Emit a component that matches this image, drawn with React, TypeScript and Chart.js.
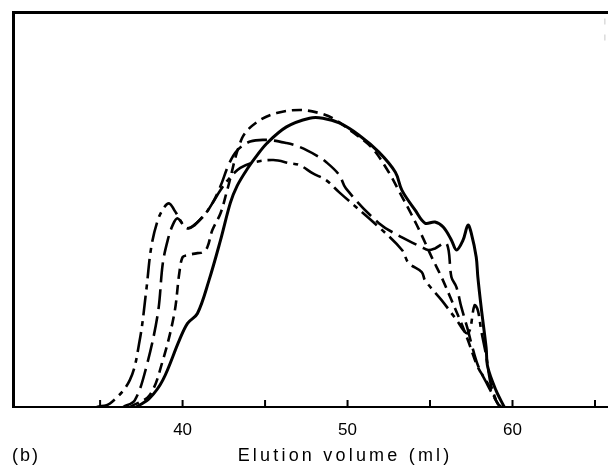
import React, { useEffect, useRef } from "react";
import { Chart, registerables } from "chart.js";

Chart.register(...registerables);

// Elution volume (ml) / detector response (arbitrary units, 0-100)
const SOLID_X = [37.2, 38.0, 38.8, 39.8, 40.3, 40.9, 41.6, 42.3, 42.9, 43.3, 43.9, 44.5, 45.1, 46.3, 47.7, 48.5, 49.5, 50.7, 51.9, 52.9, 53.3, 54.1, 54.7, 55.3, 55.8, 56.3, 56.6, 57.0, 57.3, 57.5, 57.8, 57.9, 58.1, 58.4, 58.5, 59.0, 59.5];
const SOLID_Y = [0, 2.2, 6.8, 16.9, 21.2, 23.7, 32.1, 42.3, 51.8, 56.0, 60.2, 63.7, 66.8, 71.0, 73.2, 73.2, 72.0, 68.9, 64.6, 59.5, 54.9, 49.9, 46.6, 46.9, 45.6, 42.3, 39.8, 42.3, 46.1, 44.1, 38.0, 32.9, 25.3, 15.1, 10.1, 4.2, 0];

const SHORT_DASH_X = [36.8, 38.0, 38.8, 39.5, 39.8, 40.0, 40.3, 40.9, 41.2, 41.5, 41.8, 42.3, 42.7, 43.6, 44.5, 45.7, 47.1, 48.3, 49.1, 50.3, 51.5, 52.5, 53.1, 53.9, 54.5, 55.1, 55.7, 56.3, 56.9, 57.3, 57.9, 58.5, 59.1, 59.3];
const SHORT_DASH_Y = [0, 3.0, 11.8, 23.7, 33.9, 38.0, 38.5, 39.0, 39.2, 40.5, 44.8, 49.1, 54.9, 68.1, 72.2, 74.5, 75.3, 74.5, 73.2, 69.7, 65.6, 59.5, 54.9, 48.6, 43.5, 38.0, 32.9, 27.1, 21.2, 16.9, 10.1, 6.0, 0.9, 0];

const LONG_DASH_X = [36.4, 37.1, 37.8, 38.5, 38.8, 39.1, 39.4, 39.7, 40.3, 41.2, 41.8, 42.3, 42.8, 43.3, 44.1, 45.1, 46.3, 47.1, 48.1, 48.7, 49.5, 49.9, 51.9, 53.3, 54.5, 54.9, 55.3, 56.0, 56.3, 56.6, 56.9, 57.3, 57.5, 57.9, 58.5, 59.1, 59.3];
const LONG_DASH_Y = [0, 1.7, 10.1, 23.7, 36.4, 42.3, 46.1, 47.8, 45.3, 48.1, 51.6, 56.0, 61.5, 65.0, 67.3, 67.7, 66.9, 65.9, 63.8, 62.1, 58.8, 55.4, 46.6, 43.0, 40.5, 39.8, 40.2, 41.5, 32.9, 30.4, 25.3, 19.5, 16.2, 10.6, 5.5, 0.9, 0];

const DASH_DOT_X = [34.8, 35.6, 36.8, 37.4, 37.8, 38.1, 38.5, 38.9, 39.2, 39.5, 40.3, 41.2, 41.8, 42.3, 42.9, 43.5, 44.3, 45.5, 46.5, 47.1, 47.9, 48.7, 49.5, 51.9, 53.3, 53.7, 54.5, 54.7, 55.7, 56.5, 57.3, 57.7, 57.9, 58.1, 58.4, 58.7, 59.1, 59.3];
const DASH_DOT_Y = [0, 0.9, 6.8, 16.9, 29.6, 40.5, 47.4, 50.7, 51.6, 49.9, 45.3, 48.1, 51.6, 55.0, 58.3, 60.6, 62.0, 62.6, 61.8, 61.3, 59.2, 57.5, 54.4, 45.6, 39.8, 36.5, 34.2, 32.1, 27.1, 22.7, 18.7, 25.8, 24.5, 19.5, 13.1, 5.5, 0.9, 0];

const TICK_MARKS = [35, 40, 45, 50, 55, 60, 65];
const TICK_LABELS = [40, 50, 60];
const X_MIN = 29.75;
const X_MAX = 65.6;

const AXIS_TITLE = "Elution volume (ml)";
const PANEL_LABEL = "(b)";

const FONT_FAMILY = '"Liberation Sans", "DejaVu Sans", sans-serif';

function toPoints(xs: number[], ys: number[]) {
  return xs.map((x, i) => ({ x, y: ys[i] }));
}

const framePlugin = {
  id: "framePlugin",
  afterDraw(chart: any) {
    const { ctx, chartArea } = chart;
    const xs = chart.scales.x;
    const { left, right, top, bottom } = chartArea;
    ctx.save();
    ctx.strokeStyle = "#000";
    ctx.lineCap = "butt";
    ctx.lineWidth = 3;
    ctx.beginPath();
    ctx.moveTo(left - 1.5, top);
    ctx.lineTo(chart.width, top);
    ctx.stroke();
    ctx.beginPath();
    ctx.moveTo(left, top - 1.5);
    ctx.lineTo(left, bottom + 1);
    ctx.stroke();
    ctx.lineWidth = 2;
    ctx.beginPath();
    ctx.moveTo(left - 1.5, bottom);
    ctx.lineTo(chart.width, bottom);
    ctx.stroke();
    ctx.strokeStyle = "#c8c8c8";
    ctx.lineWidth = 1;
    ctx.setLineDash([6, 10]);
    ctx.beginPath();
    ctx.moveTo(right, top + 6);
    ctx.lineTo(right, top + 30);
    ctx.stroke();
    ctx.setLineDash([]);
    ctx.strokeStyle = "#000";
    ctx.lineWidth = 2;
    xs.ticks.forEach((t: any) => {
      const px = xs.getPixelForValue(t.value);
      ctx.beginPath();
      ctx.moveTo(px, bottom);
      ctx.lineTo(px, bottom - 7);
      ctx.stroke();
    });
    ctx.fillStyle = "#000";
    ctx.font = `18px ${FONT_FAMILY}`;
    ctx.textBaseline = "middle";
    (ctx as any).letterSpacing = "3.2px";
    ctx.textAlign = "center";
    ctx.fillText(AXIS_TITLE, xs.getPixelForValue(49.85), 456);
    ctx.textAlign = "left";
    (ctx as any).letterSpacing = "2px";
    ctx.fillText(PANEL_LABEL, 12, 456);
    ctx.restore();
  },
};

export default function App() {
  const canvasRef = useRef<HTMLCanvasElement | null>(null);

  useEffect(() => {
    if (!canvasRef.current) return;
    const base = {
      borderColor: "#000",
      backgroundColor: "#000",
      pointRadius: 0,
      fill: false,
      tension: 0.35,
      borderCapStyle: "butt" as const,
      borderJoinStyle: "round" as const,
    };
    const chart = new Chart(canvasRef.current, {
      type: "line",
      data: {
        datasets: [
          { ...base, label: "solid", data: toPoints(SOLID_X, SOLID_Y), borderWidth: 3 },
          { ...base, label: "short dash", data: toPoints(SHORT_DASH_X, SHORT_DASH_Y), borderWidth: 2.6, borderDash: [10, 6] },
          { ...base, label: "long dash", data: toPoints(LONG_DASH_X, LONG_DASH_Y), borderWidth: 2.6, borderDash: [20, 7] },
          { ...base, label: "dash dot", data: toPoints(DASH_DOT_X, DASH_DOT_Y), borderWidth: 2.6, borderDash: [20, 6, 5, 6] },
        ],
      },
      options: {
        animation: false,
        responsive: false,
        maintainAspectRatio: false,
        layout: { padding: { left: 13.5, right: 1, top: 12.5, bottom: 0 } },
        plugins: { legend: { display: false }, tooltip: { enabled: false } },
        scales: {
          x: {
            type: "linear",
            min: X_MIN,
            max: X_MAX,
            border: { display: false },
            grid: { display: false, drawTicks: false },
            afterBuildTicks: (scale: any) => {
              scale.ticks = TICK_MARKS.map((v) => ({ value: v }));
            },
            afterFit: (scale: any) => {
              scale.height = 59;
            },
            ticks: {
              autoSkip: false,
              maxRotation: 0,
              padding: 13,
              color: "#000",
              font: { family: FONT_FAMILY, size: 17 },
              callback: (v: any) => (TICK_LABELS.includes(Number(v)) ? String(v) : ""),
            },
          },
          y: {
            type: "linear",
            min: 0,
            max: 100,
            display: false,
          },
        },
      },
      plugins: [framePlugin],
    });
    return () => chart.destroy();
  }, []);

  return (
    <div style={{ position: "fixed", left: 0, top: 0, width: 608, height: 466, background: "#fff" }}>
      <canvas ref={canvasRef} width={608} height={466} style={{ display: "block" }} />
    </div>
  );
}
